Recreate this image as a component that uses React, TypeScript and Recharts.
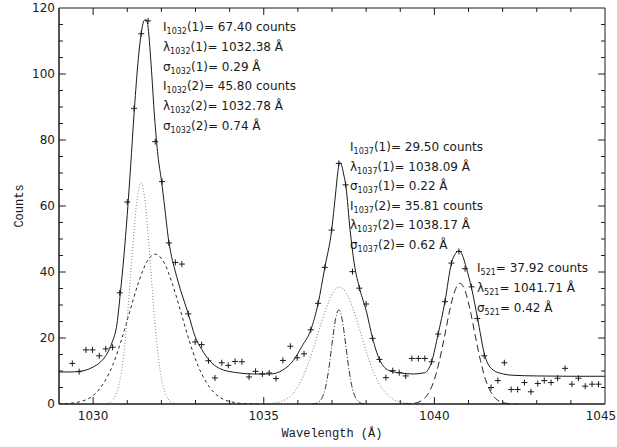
import React from 'react';
import { ComposedChart, Label, Line, ReferenceArea, ReferenceLine, Scatter, XAxis, YAxis } from 'recharts';

// axis ticks
const wavelengthTicks = [1030, 1035, 1040, 1045];
const wavelengthMinorTicks = [
  1030, 1031, 1032, 1033, 1034, 1035, 1036, 1037, 1038, 1039, 1040, 1041, 1042, 1043, 1044,
];
const countTicks = [0, 20, 40, 60, 80, 100, 120];
const countMinorTicks = [
  5, 10, 15, 20, 25, 30, 35, 40, 45, 50, 55, 60, 65, 70, 75, 80, 85, 90, 95, 100, 105, 110, 115,
];

// measured spectrum (plus signs)
const observed = [
  { x: 1029.39, y: 12.3 }, { x: 1029.59, y: 9.8 }, { x: 1029.79, y: 16.4 }, { x: 1029.98, y: 16.4 },
  { x: 1030.18, y: 14.6 }, { x: 1030.37, y: 16.7 }, { x: 1030.57, y: 17.2 }, { x: 1030.78, y: 33.7 },
  { x: 1031.0, y: 61.2 }, { x: 1031.2, y: 89.6 }, { x: 1031.41, y: 112.2 }, { x: 1031.61, y: 116.1 },
  { x: 1031.82, y: 79.5 }, { x: 1032.02, y: 67.4 }, { x: 1032.22, y: 48.8 }, { x: 1032.41, y: 42.9 },
  { x: 1032.6, y: 42.4 }, { x: 1032.79, y: 27.3 }, { x: 1032.99, y: 18.8 }, { x: 1033.18, y: 18.0 },
  { x: 1033.38, y: 13.1 }, { x: 1033.57, y: 7.9 }, { x: 1033.77, y: 12.5 }, { x: 1033.96, y: 11.7 },
  { x: 1034.16, y: 12.9 }, { x: 1034.36, y: 12.8 }, { x: 1034.57, y: 8.2 }, { x: 1034.76, y: 9.9 },
  { x: 1034.96, y: 9.1 }, { x: 1035.16, y: 9.4 }, { x: 1035.36, y: 7.7 }, { x: 1035.56, y: 13.2 },
  { x: 1035.78, y: 17.5 }, { x: 1035.98, y: 14.0 }, { x: 1036.18, y: 15.2 }, { x: 1036.38, y: 22.5 },
  { x: 1036.59, y: 30.5 }, { x: 1036.79, y: 41.4 }, { x: 1036.99, y: 52.7 }, { x: 1037.2, y: 72.9 },
  { x: 1037.4, y: 66.4 }, { x: 1037.6, y: 40.1 }, { x: 1037.8, y: 35.1 }, { x: 1038.0, y: 30.3 },
  { x: 1038.19, y: 19.9 }, { x: 1038.39, y: 13.5 }, { x: 1038.58, y: 8.0 }, { x: 1038.78, y: 10.1 },
  { x: 1038.97, y: 9.5 }, { x: 1039.16, y: 8.5 }, { x: 1039.34, y: 13.8 }, { x: 1039.53, y: 13.8 },
  { x: 1039.72, y: 13.8 }, { x: 1039.92, y: 12.8 }, { x: 1040.11, y: 21.2 }, { x: 1040.31, y: 31.0 },
  { x: 1040.5, y: 42.7 }, { x: 1040.72, y: 46.2 }, { x: 1040.9, y: 41.0 }, { x: 1041.09, y: 35.5 },
  { x: 1041.26, y: 25.9 }, { x: 1041.46, y: 14.6 }, { x: 1041.66, y: 5.0 }, { x: 1041.86, y: 7.1 },
  { x: 1042.05, y: 12.5 }, { x: 1042.25, y: 4.4 }, { x: 1042.44, y: 4.4 }, { x: 1042.64, y: 6.5 },
  { x: 1042.83, y: 3.7 }, { x: 1043.03, y: 6.2 }, { x: 1043.22, y: 7.1 }, { x: 1043.42, y: 6.5 },
  { x: 1043.61, y: 7.8 }, { x: 1043.83, y: 10.8 }, { x: 1044.03, y: 6.0 }, { x: 1044.22, y: 7.8 },
  { x: 1044.42, y: 5.4 }, { x: 1044.62, y: 6.0 }, { x: 1044.81, y: 6.0 },
];

// total fit (solid)
const totalFit = [
  { x: 1029.0, y: 9.7 }, { x: 1029.3, y: 9.7 }, { x: 1029.6, y: 9.9 }, { x: 1029.8, y: 10.3 },
  { x: 1030.0, y: 11.2 }, { x: 1030.2, y: 12.6 }, { x: 1030.4, y: 15.1 }, { x: 1030.55, y: 18.5 },
  { x: 1030.7, y: 24.4 }, { x: 1030.8, y: 33.8 }, { x: 1030.9, y: 44.6 }, { x: 1031.0, y: 57.4 },
  { x: 1031.1, y: 72.2 }, { x: 1031.2, y: 88.0 }, { x: 1031.3, y: 101.8 }, { x: 1031.4, y: 111.6 },
  { x: 1031.5, y: 116.3 }, { x: 1031.55, y: 116.5 }, { x: 1031.6, y: 115.0 }, { x: 1031.7, y: 102.7 },
  { x: 1031.8, y: 87.0 }, { x: 1031.9, y: 75.2 }, { x: 1032.0, y: 67.8 }, { x: 1032.1, y: 59.4 },
  { x: 1032.2, y: 50.5 }, { x: 1032.3, y: 44.6 }, { x: 1032.4, y: 40.5 }, { x: 1032.5, y: 36.7 },
  { x: 1032.6, y: 33.3 }, { x: 1032.79, y: 27.3 }, { x: 1032.99, y: 20.4 }, { x: 1033.18, y: 16.6 },
  { x: 1033.4, y: 13.3 }, { x: 1033.7, y: 10.8 }, { x: 1034.2, y: 9.5 }, { x: 1034.7, y: 9.1 },
  { x: 1035.2, y: 9.1 }, { x: 1035.56, y: 10.3 }, { x: 1035.86, y: 13.1 }, { x: 1036.12, y: 17.5 },
  { x: 1036.38, y: 22.5 }, { x: 1036.59, y: 30.3 }, { x: 1036.79, y: 41.4 }, { x: 1036.99, y: 52.7 },
  { x: 1037.1, y: 63.3 }, { x: 1037.17, y: 70.2 }, { x: 1037.22, y: 73.2 }, { x: 1037.27, y: 72.7 },
  { x: 1037.34, y: 69.7 }, { x: 1037.41, y: 65.8 }, { x: 1037.53, y: 52.7 }, { x: 1037.65, y: 42.7 },
  { x: 1037.82, y: 34.6 }, { x: 1038.0, y: 28.4 }, { x: 1038.19, y: 19.9 }, { x: 1038.39, y: 13.5 },
  { x: 1038.7, y: 10.0 }, { x: 1039.02, y: 9.4 }, { x: 1039.38, y: 9.1 }, { x: 1039.72, y: 9.5 },
  { x: 1039.92, y: 12.8 }, { x: 1040.11, y: 21.2 }, { x: 1040.31, y: 31.0 }, { x: 1040.5, y: 42.7 },
  { x: 1040.62, y: 45.6 }, { x: 1040.72, y: 46.4 }, { x: 1040.82, y: 45.1 }, { x: 1040.94, y: 41.1 },
  { x: 1041.09, y: 35.1 }, { x: 1041.26, y: 26.3 }, { x: 1041.48, y: 14.6 }, { x: 1041.72, y: 10.3 },
  { x: 1042.02, y: 9.1 }, { x: 1042.3, y: 8.7 }, { x: 1043.0, y: 8.5 }, { x: 1044.0, y: 8.4 },
  { x: 1045.0, y: 8.4 },
];

// 1032 narrow component (dotted)
const fit1032a = [
  { x: 1030.2, y: 0.1 }, { x: 1030.4, y: 0.2 }, { x: 1030.5, y: 0.5 }, { x: 1030.6, y: 1.5 },
  { x: 1030.7, y: 3.7 }, { x: 1030.8, y: 7.9 }, { x: 1030.9, y: 15.2 }, { x: 1031.0, y: 25.9 },
  { x: 1031.1, y: 39.2 }, { x: 1031.2, y: 52.7 }, { x: 1031.3, y: 63.1 }, { x: 1031.4, y: 67.0 },
  { x: 1031.5, y: 63.1 }, { x: 1031.6, y: 52.7 }, { x: 1031.7, y: 39.2 }, { x: 1031.8, y: 25.9 },
  { x: 1031.9, y: 15.2 }, { x: 1032.0, y: 7.9 }, { x: 1032.1, y: 3.7 }, { x: 1032.2, y: 1.5 },
  { x: 1032.3, y: 0.5 }, { x: 1032.4, y: 0.2 }, { x: 1032.6, y: 0.1 },
];

// 1032 broad component (dashed)
const fit1032b = [
  { x: 1029.0, y: 0.05 }, { x: 1029.32, y: 0.2 }, { x: 1029.57, y: 0.6 }, { x: 1029.82, y: 1.4 },
  { x: 1030.07, y: 3.2 }, { x: 1030.32, y: 6.5 }, { x: 1030.57, y: 11.7 }, { x: 1030.82, y: 19.1 },
  { x: 1031.07, y: 27.9 }, { x: 1031.32, y: 36.5 }, { x: 1031.57, y: 43.0 }, { x: 1031.82, y: 45.4 },
  { x: 1032.07, y: 43.0 }, { x: 1032.32, y: 36.5 }, { x: 1032.57, y: 27.9 }, { x: 1032.82, y: 19.1 },
  { x: 1033.07, y: 11.7 }, { x: 1033.32, y: 6.5 }, { x: 1033.57, y: 3.2 }, { x: 1033.82, y: 1.4 },
  { x: 1034.07, y: 0.6 }, { x: 1034.32, y: 0.2 }, { x: 1034.57, y: 0.07 }, { x: 1034.82, y: 0 },
];

// 1037 narrow component (dash-dot)
const fit1037a = [
  { x: 1036.4, y: 0 }, { x: 1036.5, y: 0.1 }, { x: 1036.6, y: 0.5 }, { x: 1036.7, y: 1.7 },
  { x: 1036.8, y: 4.6 }, { x: 1036.9, y: 10.2 }, { x: 1037.0, y: 18.1 }, { x: 1037.1, y: 25.5 },
  { x: 1037.2, y: 28.5 }, { x: 1037.3, y: 25.5 }, { x: 1037.4, y: 18.1 }, { x: 1037.5, y: 10.2 },
  { x: 1037.6, y: 4.6 }, { x: 1037.7, y: 1.7 }, { x: 1037.8, y: 0.5 }, { x: 1037.9, y: 0.1 },
  { x: 1038.0, y: 0 },
];

// 1037 broad component (dotted)
const fit1037b = [
  { x: 1034.82, y: 0 }, { x: 1035.02, y: 0.07 }, { x: 1035.22, y: 0.2 }, { x: 1035.42, y: 0.52 },
  { x: 1035.62, y: 1.27 }, { x: 1035.82, y: 2.8 }, { x: 1036.02, y: 5.6 }, { x: 1036.22, y: 10.0 },
  { x: 1036.42, y: 15.8 }, { x: 1036.62, y: 22.4 }, { x: 1036.82, y: 28.7 }, { x: 1037.02, y: 33.6 },
  { x: 1037.22, y: 35.4 }, { x: 1037.42, y: 33.6 }, { x: 1037.62, y: 28.7 }, { x: 1037.82, y: 22.2 },
  { x: 1038.02, y: 15.4 }, { x: 1038.22, y: 9.6 }, { x: 1038.42, y: 5.4 }, { x: 1038.62, y: 2.8 },
  { x: 1038.82, y: 1.27 }, { x: 1039.02, y: 0.52 }, { x: 1039.22, y: 0.2 }, { x: 1039.42, y: 0.07 },
  { x: 1039.62, y: 0 },
];

// 521 line (long dashes)
const fit521 = [
  { x: 1039.1, y: 0 }, { x: 1039.25, y: 0.06 }, { x: 1039.4, y: 0.21 }, { x: 1039.55, y: 0.62 },
  { x: 1039.7, y: 1.6 }, { x: 1039.85, y: 3.7 }, { x: 1040.0, y: 7.4 }, { x: 1040.15, y: 13.2 },
  { x: 1040.3, y: 20.6 }, { x: 1040.45, y: 28.4 }, { x: 1040.6, y: 34.3 }, { x: 1040.75, y: 36.6 },
  { x: 1040.9, y: 34.3 }, { x: 1041.05, y: 28.4 }, { x: 1041.2, y: 20.6 }, { x: 1041.35, y: 13.2 },
  { x: 1041.5, y: 7.4 }, { x: 1041.65, y: 3.7 }, { x: 1041.8, y: 1.6 }, { x: 1041.95, y: 0.62 },
  { x: 1042.1, y: 0.21 }, { x: 1042.25, y: 0.06 }, { x: 1042.4, y: 0 },
];

// fit parameters printed on the plot
const notes1032 = [
  { sym: 'I', sub: '1032', rest: '(1)= 67.40 counts' },
  { sym: 'λ', sub: '1032', rest: '(1)= 1032.38 Å' },
  { sym: 'σ', sub: '1032', rest: '(1)= 0.29 Å' },
  { sym: 'I', sub: '1032', rest: '(2)= 45.80 counts' },
  { sym: 'λ', sub: '1032', rest: '(2)= 1032.78 Å' },
  { sym: 'σ', sub: '1032', rest: '(2)= 0.74 Å' },
];
const notes1037 = [
  { sym: 'I', sub: '1037', rest: '(1)= 29.50 counts' },
  { sym: 'λ', sub: '1037', rest: '(1)= 1038.09 Å' },
  { sym: 'σ', sub: '1037', rest: '(1)= 0.22 Å' },
  { sym: 'I', sub: '1037', rest: '(2)= 35.81 counts' },
  { sym: 'λ', sub: '1037', rest: '(2)= 1038.17 Å' },
  { sym: 'σ', sub: '1037', rest: '(2)= 0.62 Å' },
];
const notes521 = [
  { sym: 'I', sub: '521', rest: '= 37.92 counts' },
  { sym: 'λ', sub: '521', rest: '= 1041.71 Å' },
  { sym: 'σ', sub: '521', rest: '= 0.42 Å' },
];

const INK = '#1a1a1a';
const tickFont = { fontSize: 12, fontFamily: 'DejaVu Sans', fill: INK };

// inward tick lengths, in axis units (about 7px major / 4px minor)
const X_MAJOR = 2.1;
const X_MINOR = 1.2;
const Y_MAJOR = 0.2;
const Y_MINOR = 0.115;

function PlusMark(props: any) {
  const { cx, cy } = props;
  if (cx == null || cy == null) return <g />;
  return (
    <g stroke={INK} strokeWidth={1}>
      <line x1={cx - 3} y1={cy} x2={cx + 3} y2={cy} />
      <line x1={cx} y1={cy - 3} x2={cx} y2={cy + 3} />
    </g>
  );
}

function WaveTick(props: any) {
  const { x, y, payload } = props;
  // the last label is pulled in so it stays on the page
  const shift = payload.value === 1045 ? -4 : 0;
  return (
    <text x={x + shift} y={y} dy="0.71em" textAnchor="middle" {...tickFont}>
      {payload.value}
    </text>
  );
}

function NoteBlock({ lines, x, y, step }: { lines: typeof notes521; x: number; y: number; step: number }) {
  return (
    <g fontFamily="DejaVu Sans" fontSize={12} fill={INK}>
      {lines.map((ln, i) => (
        <text key={i} x={x} y={y + i * step}>
          {ln.sym}
          <tspan fontSize={8} dy={3}>{ln.sub}</tspan>
          <tspan dy={-3}>{ln.rest}</tspan>
        </text>
      ))}
    </g>
  );
}

export default function App() {
  const tickStyle = { stroke: INK, strokeWidth: 1, ifOverflow: 'visible' as const };
  return (
    <div style={{ position: 'absolute', left: 0, top: 0, width: 617, height: 447, background: '#fff' }}>
      <ComposedChart width={617} height={447} margin={{ top: 8, right: 12, left: 0, bottom: 0 }}>
        <XAxis
          dataKey="x"
          type="number"
          domain={[1029, 1045]}
          allowDataOverflow
          ticks={wavelengthTicks}
          interval={0}
          tickLine={false}
          tickSize={0}
          tickMargin={7}
          height={43}
          axisLine={{ stroke: INK }}
          tick={WaveTick}
        >
          <Label
            value="Wavelength (Å)"
            position="insideBottom"
            offset={10}
            style={{ fontSize: 12, fontFamily: 'Liberation Mono', fill: INK }}
          />
        </XAxis>
        <YAxis
          dataKey="y"
          type="number"
          domain={[0, 120]}
          allowDataOverflow
          ticks={countTicks}
          interval={0}
          tickLine={false}
          tickSize={0}
          tickMargin={4}
          width={59}
          axisLine={{ stroke: INK }}
          tick={tickFont}
        >
          <Label
            value="Counts"
            angle={-90}
            position="insideLeft"
            offset={19}
            style={{ textAnchor: 'middle', fontSize: 12, fontFamily: 'Liberation Mono', fill: INK }}
          />
        </YAxis>

        <ReferenceArea x1={1029} x2={1045} y1={0} y2={120} fill="none" fillOpacity={0}
          stroke={INK} strokeWidth={1} ifOverflow="visible" />
        {wavelengthMinorTicks.map((v) => {
          const len = wavelengthTicks.includes(v) ? X_MAJOR : X_MINOR;
          return [
            <ReferenceLine key={`xb${v}`} segment={[{ x: v, y: 0 }, { x: v, y: len }]} {...tickStyle} />,
            <ReferenceLine key={`xt${v}`} segment={[{ x: v, y: 120 }, { x: v, y: 120 - len }]} {...tickStyle} />,
          ];
        })}
        {countMinorTicks.map((v) => {
          const len = countTicks.includes(v) ? Y_MAJOR : Y_MINOR;
          return [
            <ReferenceLine key={`yl${v}`} segment={[{ x: 1029, y: v }, { x: 1029 + len, y: v }]} {...tickStyle} />,
            <ReferenceLine key={`yr${v}`} segment={[{ x: 1045, y: v }, { x: 1045 - len, y: v }]} {...tickStyle} />,
          ];
        })}

        <Line data={fit1032a} dataKey="y" type="monotone" stroke="#8a8a8a" strokeWidth={1}
          strokeDasharray="1 2" dot={false} isAnimationActive={false} />
        <Line data={fit1032b} dataKey="y" type="monotone" stroke="#262626" strokeWidth={1}
          strokeDasharray="3 3" dot={false} isAnimationActive={false} />
        <Line data={fit1037a} dataKey="y" type="monotone" stroke="#333" strokeWidth={1}
          strokeDasharray="6 2 1 2" dot={false} isAnimationActive={false} />
        <Line data={fit1037b} dataKey="y" type="monotone" stroke="#7a7a7a" strokeWidth={1}
          strokeDasharray="1 2" dot={false} isAnimationActive={false} />
        <Line data={fit521} dataKey="y" type="monotone" stroke="#262626" strokeWidth={1}
          strokeDasharray="7 4" dot={false} isAnimationActive={false} />
        <Line data={totalFit} dataKey="y" type="monotone" stroke={INK} strokeWidth={1}
          dot={false} isAnimationActive={false} />
        <Scatter data={observed} dataKey="y" shape={PlusMark} isAnimationActive={false} />
      </ComposedChart>
      <svg width={617} height={447} style={{ position: 'absolute', left: 0, top: 0, pointerEvents: 'none' }}>
        <NoteBlock lines={notes1032} x={163} y={31} step={19.8} />
        <NoteBlock lines={notes1037} x={350} y={151} step={19.6} />
        <NoteBlock lines={notes521} x={477} y={272} step={20} />
      </svg>
    </div>
  );
}
